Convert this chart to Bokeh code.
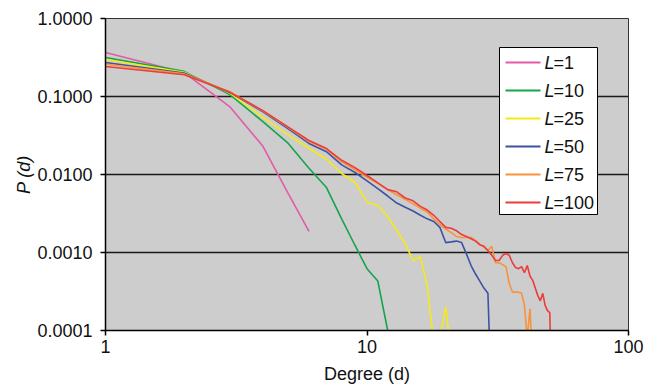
from bokeh.plotting import figure
from bokeh.models import FixedTicker, CustomJSTickFormatter, Label, BoxAnnotation, Range1d
from bokeh.embed import file_html
from bokeh.resources import INLINE

# ---- data ----
series_names = ["1", "10", "25", "50", "75", "100"]
series_colors = ["#e45aa9", "#14a54b", "#f5eb14", "#3d53a3", "#f7933a", "#ec3c3c"]

degree_L1 = [1, 2, 3, 4, 5, 6]
p_L1 = [0.366, 0.203, 0.073, 0.023, 0.0057, 0.00186]

degree_L10 = list(range(1, 14))
p_L10 = [0.316, 0.21, 0.105, 0.0475, 0.025, 0.012, 0.0068, 0.0027, 0.00123,
         0.00062, 0.00043, 0.0001, 0.00002]

degree_L25 = list(range(1, 22))
p_L25 = [0.298, 0.205, 0.110, 0.054, 0.0322, 0.0217, 0.0157, 0.0103, 0.0079,
         0.0044, 0.0040, 0.0029, 0.0019, 0.0013, 0.00079, 0.00088, 0.00037,
         0.00007, 0.00008, 0.0002, 0.00005]

degree_L50 = list(range(1, 31))
p_L50 = [0.272, 0.20, 0.112, 0.0635, 0.0385, 0.025, 0.0196, 0.0133, 0.0106,
         0.0083, 0.0066, 0.0053, 0.0043, 0.0038, 0.0034, 0.0030, 0.0027, 0.0025,
         0.0021, 0.00134, 0.00137, 0.0014, 0.00134, 0.00096, 0.00068, 0.00053,
         0.00043, 0.00035, 0.00030, 0.00001]

degree_L75 = list(range(1, 44))
p_L75 = [0.261, 0.195, 0.114, 0.065, 0.040, 0.0265, 0.0210, 0.0145, 0.0115,
         0.0092, 0.0077, 0.0064, 0.0055, 0.0048, 0.0042, 0.0037, 0.0033, 0.0027,
         0.0023, 0.0020, 0.0018, 0.0016, 0.00156, 0.00156, 0.00156, 0.00143,
         0.00126, 0.00117, 0.00106, 0.00120, 0.00074, 0.00074, 0.00070, 0.00066,
         0.0004, 0.00031, 0.00031, 0.00031, 0.00030, 0.00021, 0.00008, 0.00019,
         0.00004]

degree_L100 = list(range(1, 52))
p_L100 = [0.242, 0.19, 0.113, 0.066, 0.0405, 0.0273, 0.0215, 0.0152, 0.0122,
          0.0097, 0.0078, 0.0064, 0.0060, 0.0050, 0.0046, 0.0039, 0.0035, 0.0030,
          0.0025, 0.0021, 0.00205, 0.0019, 0.0017, 0.0016, 0.0015, 0.0014,
          0.00126, 0.0012, 0.00106, 0.00092, 0.00079, 0.00079, 0.00092, 0.00097,
          0.00092, 0.00074, 0.00064, 0.00062, 0.00066, 0.00055, 0.00068, 0.00050,
          0.00044, 0.00035, 0.00028, 0.00024, 0.00030, 0.00021, 0.00018, 0.00017,
          0.00001]

x_ticks = [1, 10, 100]
y_ticks = [0.0001, 0.001, 0.01, 0.1, 1]

series = [(degree_L1, p_L1), (degree_L10, p_L10), (degree_L25, p_L25),
          (degree_L50, p_L50), (degree_L75, p_L75), (degree_L100, p_L100)]

FONT = "Liberation Sans"
INK = "#111111"

p = figure(width=654, height=388, x_axis_type="log", y_axis_type="log",
           x_range=Range1d(1, 100), y_range=Range1d(0.0001, 1),
           output_backend="svg", toolbar_location=None,
           min_border_left=0, min_border_right=26, min_border_top=18,
           min_border_bottom=58)

p.background_fill_color = "#cdcdcd"
p.border_fill_color = "white"
p.outline_line_color = "#333333"
p.outline_line_width = 1

p.xgrid.grid_line_color = None
p.ygrid.grid_line_color = "#1a1a1a"
p.ygrid.grid_line_width = 1.5

p.xaxis.ticker = FixedTicker(ticks=x_ticks)
p.yaxis.ticker = FixedTicker(ticks=y_ticks)
p.xaxis.formatter = CustomJSTickFormatter(code="return tick.toFixed(0)")
p.yaxis.formatter = CustomJSTickFormatter(code="return tick.toFixed(4)")

for ax in (p.xaxis, p.yaxis):
    ax.axis_line_color = "black"
    ax.axis_line_width = 1.5
    ax.major_tick_line_color = "black"
    ax.major_tick_line_width = 1.5
    ax.major_tick_in = 0
    ax.major_tick_out = 5
    ax.minor_tick_line_color = None
    ax.major_label_text_font = FONT
    ax.major_label_text_font_size = "18px"
    ax.major_label_text_color = INK
    ax.axis_label_text_font = FONT
    ax.axis_label_text_font_size = "18px"
    ax.axis_label_text_color = INK

p.yaxis.major_label_standoff = 8
p.xaxis.major_label_standoff = 4

p.xaxis.axis_label = "Degree (d)"
p.xaxis.axis_label_text_font_style = "normal"
p.xaxis.axis_label_standoff = 8

# the blank first line only reserves the white margin to the left of the label
p.yaxis.axis_label = " \nP (d)"
p.yaxis.axis_label_text_font_style = "italic"
p.yaxis.axis_label_text_line_height = 0.57
p.yaxis.axis_label_standoff = 0

for (xs, ys), c in zip(series, series_colors):
    p.line(xs, ys, line_color=c, line_width=1.6)

# legend (built manually so that "L" can be italic)
p.add_layout(BoxAnnotation(left=394, right=492, top=283, bottom=116,
                           left_units="screen", right_units="screen",
                           top_units="screen", bottom_units="screen",
                           fill_color="white", fill_alpha=1.0,
                           line_color="black", line_width=1, line_alpha=1.0))
row_top = 268
row_step = 28
for i, (name, c) in enumerate(zip(series_names, series_colors)):
    yc = row_top - i * row_step
    p.add_layout(BoxAnnotation(left=400, right=435, top=yc + 1, bottom=yc - 1,
                               left_units="screen", right_units="screen",
                               top_units="screen", bottom_units="screen",
                               fill_color=c, fill_alpha=1.0, line_alpha=0))
    p.add_layout(Label(x=439, y=yc, x_units="screen", y_units="screen", text="L",
                       text_baseline="middle", text_align="left",
                       text_font=FONT, text_font_size="18px", text_font_style="italic",
                       text_color=INK))
    p.add_layout(Label(x=448, y=yc, x_units="screen", y_units="screen", text="=" + name,
                       text_baseline="middle", text_align="left",
                       text_font=FONT, text_font_size="18px",
                       text_color=INK))

open("out.html", "w").write(file_html(p, INLINE))
